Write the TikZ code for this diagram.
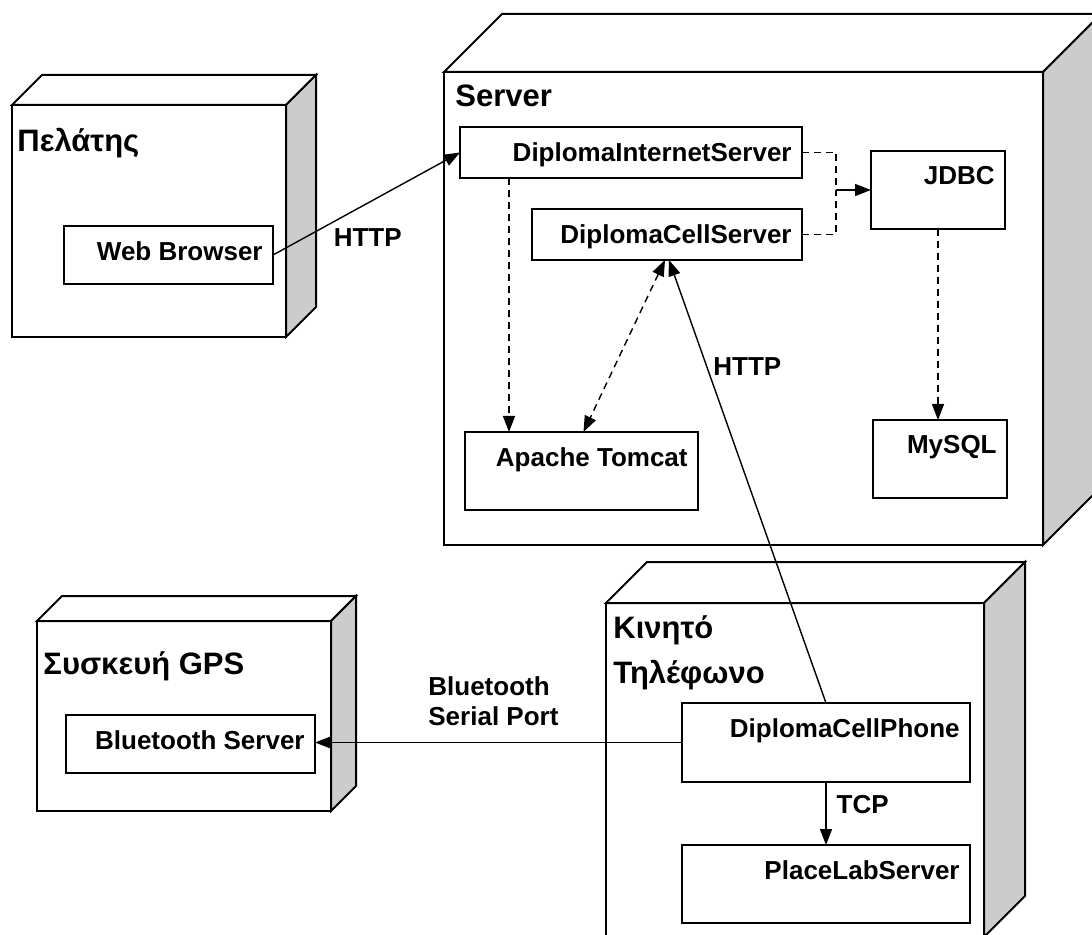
\documentclass[tikz,border=0pt]{standalone}
\usepackage{fontspec}
\setmainfont{Liberation Sans}
\usetikzlibrary{arrows.meta}
\newcommand\partfont{\fontsize{13}{15}\selectfont\bfseries}
\newcommand\titlefont{\fontsize{15.5}{22.5}\selectfont\bfseries}
\tikzset{
	device/.style={draw, line width=1pt, fill=white, inner sep=0pt, outer sep=0pt},
	devtitle/.style={font=\titlefont, inner sep=0pt, align=left},
	part/.style={draw, line width=0.8pt, fill=white, inner sep=0pt, outer sep=0pt, label={[partlabel]north east:#1}},
	partlabel/.style={anchor=north east, xshift=-5pt, yshift=-7.5pt, inner sep=0pt, font=\partfont},
	connlabel/.style={font=\partfont},
	link/.style={line width=0.7pt, ->},
	dep/.style={link, dash pattern=on 3.5pt off 2.5pt},
	depline/.style={line width=0.7pt, dash pattern=on 3.5pt off 2.5pt},
	>={Triangle[length=8pt,width=6pt]}
}
\begin{document}
\begin{tikzpicture}[x=0.5pt, y=-0.5pt]
		\useasboundingbox (0,0) rectangle (1092,935);
		\clip (0,0) rectangle (1092,935);
		
		% devices
		\node[device, minimum width=137pt, minimum height=116pt] (client) at (149,221) {};
		\node[device, minimum width=299.5pt, minimum height=236.5pt] (server) at (743.5,308.5) {};
		\node[device, minimum width=147pt, minimum height=95pt] (gps) at (184,716) {};
		\node[device, minimum width=189pt, minimum height=167pt] (mobile) at (795,770) {};
		\foreach \dev/\d in {client/30, server/58, gps/25, mobile/41}{
			\draw[line width=1pt, fill=white] (\dev.north west) -- ++(\d,-\d) -- ([shift={(\d,-\d)}]\dev.north east) -- (\dev.north east) -- cycle;
			\draw[line width=1pt, fill=gray!40] (\dev.north east) -- ++(\d,-\d) -- ([shift={(\d,-\d)}]\dev.south east) -- (\dev.south east) -- cycle;
		}
		
		\node[devtitle, anchor=base west] (clienttitle) at (17,152) {Πελάτης};
		\node[devtitle, anchor=base west] (servertitle) at (455,107) {Server};
		\node[devtitle, anchor=base west] (gpstitle) at (43,674) {Συσκευή GPS};
		\node[devtitle, anchor=north west] (mobiletitle) at (613,615) {Κινητό\\Τηλέφωνο};
		
		% components
		\node[part=Web Browser, minimum width=104.5pt, minimum height=29pt] (browser) at (168.5,255) {};
		\node[part=DiplomaInternetServer, minimum width=171pt, minimum height=25.5pt] (inetserver) at (631,152.5) {};
		\node[part=DiplomaCellServer, minimum width=135pt, minimum height=25.5pt] (cellserver) at (667,234.5) {};
		\node[part=JDBC, minimum width=67pt, minimum height=39pt] (jdbc) at (938,190) {};
		\node[part=MySQL, minimum width=67pt, minimum height=39pt] (mysql) at (940,459) {};
		\node[part=Apache Tomcat, minimum width=116.5pt, minimum height=39pt] (tomcat) at (581.5,471) {};
		\node[part=DiplomaCellPhone, minimum width=144pt, minimum height=39.5pt] (cellphone) at (826,742.5) {};
		\node[part=PlaceLabServer, minimum width=144pt, minimum height=39pt] (placelab) at (826,884) {};
		\node[part=Bluetooth Server, minimum width=124.5pt, minimum height=29pt] (btserver) at (190.5,744) {};
		
		% connectors
		\draw[link] (browser.east) -- node[connlabel, pos=0.3, anchor=north west, inner sep=2pt] {HTTP} (inetserver.west);
		\coordinate (jdbcin) at ([xshift=-17.5pt]jdbc.west);
		\draw[depline] (inetserver.east) -| (jdbcin);
		\draw[depline] (cellserver.east) -| (jdbcin);
		\draw[link] (jdbcin) -- (jdbc.west);
		\draw[dep] (jdbc.south) -- (jdbc.south |- mysql.north);
		\draw[dep] ([xshift=24.5pt]inetserver.south west) -- ([xshift=24.5pt]inetserver.south west |- tomcat.north);
		\draw[dep, <->] ([xshift=-1pt]cellserver.south) -- ([xshift=1pt]tomcat.north);
		\draw[link] (cellphone.north) -- node[connlabel, pos=0.76, anchor=west, inner sep=3pt] {HTTP} ([xshift=1pt]cellserver.south);
		\draw[link] (cellphone.south) -- node[connlabel, pos=0.35, anchor=west, inner sep=5pt] {TCP} (placelab.north);
		\draw[link] (cellphone.west) -- (cellphone.west -| btserver.east);
		\node[connlabel, anchor=north west, inner sep=0pt, align=left] (btlabel) at (428,676) {Bluetooth\\Serial Port};
\end{tikzpicture}
\end{document}
